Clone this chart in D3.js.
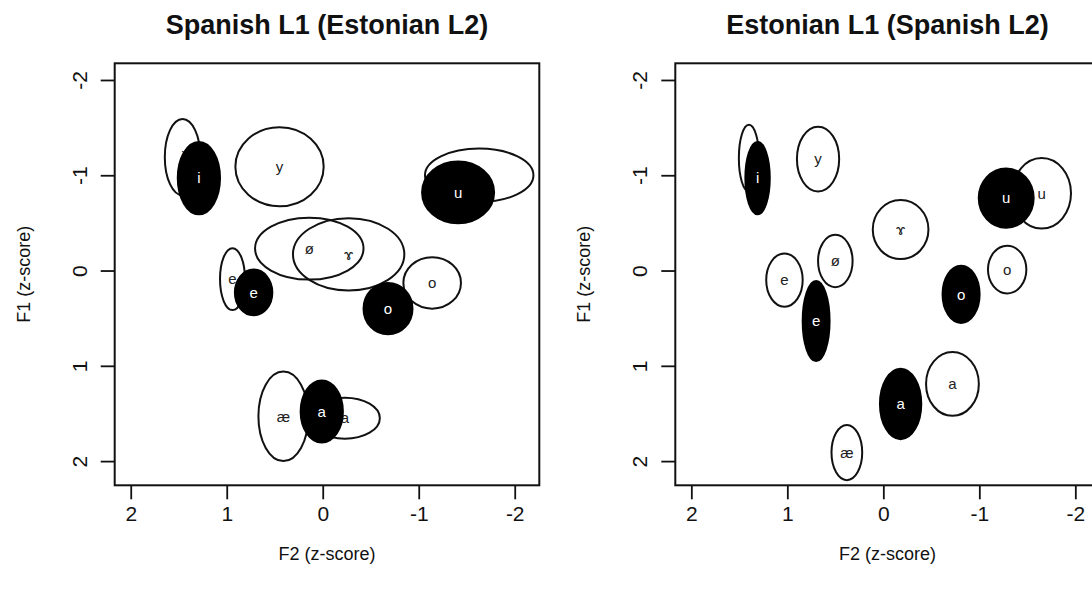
<!DOCTYPE html>
<html>
<head>
<meta charset="utf-8">
<script src="https://cdn.jsdelivr.net/npm/d3@7"></script>
<style>
	body { margin: 0; background: #fff; }
	svg { display: block; font-family: "Liberation Sans", Arial, Helvetica, sans-serif; }
</style>
</head>
<body>
<svg id="chart" width="1092" height="596"></svg>
<script>
// ellipse centre = mean F2/F1 (z-score), radii = spread on each axis
// black = Spanish vowels, open = Estonian vowels

var panelTitles = ["Spanish L1 (Estonian L2)", "Estonian L1 (Spanish L2)"];
var xTicks = [2, 1, 0, -1, -2];
var yTicks = [-2, -1, 0, 1, 2];

var estVowels = ["i", "y", "u", "ø", "ɤ", "e", "o", "æ", "a"];
var spaVowels = ["i", "e", "a", "o", "u"];

// left panel
var leftEstF2  = [1.46, 0.45, -1.63, 0.14, -0.27, 0.94, -1.14, 0.41, -0.23];
var leftEstF1  = [-1.19, -1.09, -1.00, -0.23, -0.17, 0.09, 0.13, 1.53, 1.55];
var leftEstRx  = [0.185, 0.46, 0.565, 0.565, 0.58, 0.13, 0.30, 0.26, 0.365];
var leftEstRy  = [0.40, 0.415, 0.28, 0.325, 0.38, 0.325, 0.27, 0.47, 0.215];

var leftSpaF2  = [1.29, 0.72, 0.01, -0.68, -1.41];
var leftSpaF1  = [-0.97, 0.23, 1.48, 0.40, -0.82];
var leftSpaRx  = [0.22, 0.195, 0.22, 0.255, 0.375];
var leftSpaRy  = [0.38, 0.24, 0.325, 0.27, 0.325];

// right panel
var rightEstF2 = [1.40, 0.68, -1.65, 0.50, -0.18, 1.03, -1.29, 0.38, -0.72];
var rightEstF1 = [-1.18, -1.17, -0.81, -0.10, -0.43, 0.10, -0.01, 1.91, 1.19];
var rightEstRx = [0.105, 0.22, 0.305, 0.18, 0.29, 0.19, 0.20, 0.16, 0.275];
var rightEstRy = [0.35, 0.34, 0.37, 0.275, 0.31, 0.28, 0.25, 0.29, 0.335];

var rightSpaF2 = [1.31, 0.70, -0.18, -0.81, -1.28];
var rightSpaF1 = [-0.97, 0.53, 1.40, 0.25, -0.76];
var rightSpaRx = [0.127, 0.14, 0.215, 0.193, 0.286];
var rightSpaRy = [0.38, 0.42, 0.37, 0.30, 0.31];

function toRows(labels, f2, f1, rx, ry) {
	return labels.map(function(v, i) {
		return {vowel: v, f2: f2[i], f1: f1[i], rx: rx[i], ry: ry[i]};
	});
}

// plain hyphen for negatives, like R
function tickFmt(d) { return String(d); }

function vowelPlot() {
	var left = 0,
		top = 63.3,
		width = 424.6,
		height = 422,
		title = "",
		estonian = [],
		spanish = [];

	function vp(selection) {
		var x = d3.scaleLinear()
				.domain([2.167, -2.256])
				.range([left, left + width]);

		var y = d3.scaleLinear()
				.domain([-2.175, 2.254])
				.range([top, top + height]);

		var g = selection.append("g").attr("class", "panel");

		var xAxis = g.append("g")
				.attr("transform", "translate(0," + (top + height) + ")")
				.call(d3.axisBottom(x).tickValues(xTicks).tickSize(14).tickSizeOuter(0).tickPadding(7).tickFormat(tickFmt));

		var yAxis = g.append("g")
				.attr("transform", "translate(" + left + ",0)")
				.call(d3.axisLeft(y).tickValues(yTicks).tickSize(14).tickSizeOuter(0).tickFormat(tickFmt));

		[xAxis, yAxis].forEach(function(ax) {
			ax.select(".domain").remove();
			ax.selectAll(".tick line")
				.attr("stroke", "#111")
				.attr("stroke-width", 1.8);
			ax.selectAll(".tick text")
				.attr("fill", "#111")
				.style("font-size", "21px");
		});

		xAxis.selectAll(".tick text").attr("dy", "0.71em");

		// rotated y labels, like R's las = 0
		yAxis.selectAll(".tick text")
			.attr("x", null)
			.attr("dy", null)
			.attr("text-anchor", "middle")
			.attr("transform", "translate(" + (-28) + ",0) rotate(-90)");

		// open Estonian ellipses first
		var est = g.append("g").attr("class", "est");

		est.selectAll("ellipse")
			.data(estonian)
			.join("ellipse")
				.attr("cx", function(d) { return x(d.f2); })
				.attr("cy", function(d) { return y(d.f1); })
				.attr("rx", function(d) { return Math.abs(x(d.rx) - x(0)); })
				.attr("ry", function(d) { return Math.abs(y(d.ry) - y(0)); })
				.attr("fill", "none")
				.attr("stroke", "#111")
				.attr("stroke-width", 2);

		est.selectAll("text")
			.data(estonian)
			.join("text")
				.attr("x", function(d) { return x(d.f2); })
				.attr("y", function(d) { return y(d.f1); })
				.attr("dy", "0.35em")
				.attr("text-anchor", "middle")
				.attr("fill", "#222")
				.style("font-size", "15px")
				.text(function(d) { return d.vowel; });

		// filled Spanish ellipses on top
		var spa = g.append("g").attr("class", "spa");

		spa.selectAll("ellipse")
			.data(spanish)
			.join("ellipse")
				.attr("cx", function(d) { return x(d.f2); })
				.attr("cy", function(d) { return y(d.f1); })
				.attr("rx", function(d) { return Math.abs(x(d.rx) - x(0)); })
				.attr("ry", function(d) { return Math.abs(y(d.ry) - y(0)); })
				.attr("fill", "#000")
				.attr("stroke", "#000")
				.attr("stroke-width", 2);

		spa.selectAll("text")
			.data(spanish)
			.join("text")
				.attr("x", function(d) { return x(d.f2); })
				.attr("y", function(d) { return y(d.f1); })
				.attr("dy", "0.35em")
				.attr("text-anchor", "middle")
				.attr("fill", "#fff")
				.style("font-size", "15px")
				.text(function(d) { return d.vowel; });

		// plot box
		g.append("rect")
			.attr("x", left)
			.attr("y", top)
			.attr("width", width)
			.attr("height", height)
			.attr("fill", "none")
			.attr("stroke", "#111")
			.attr("stroke-width", 2);

		g.append("text")
			.attr("x", left + width / 2)
			.attr("y", 34)
			.attr("text-anchor", "middle")
			.style("font-size", "27px")
			.style("font-weight", "bold")
			.attr("fill", "#111")
			.text(title);

		g.append("text")
			.attr("x", left + width / 2)
			.attr("y", 560)
			.attr("text-anchor", "middle")
			.style("font-size", "18px")
			.attr("fill", "#111")
			.text("F2 (z-score)");

		g.append("text")
			.attr("transform", "translate(" + (left - 85) + "," + (top + height / 2) + ") rotate(-90)")
			.attr("text-anchor", "middle")
			.style("font-size", "18px")
			.attr("fill", "#111")
			.text("F1 (z-score)");
	}

	vp.left = function(value) {
		if (!arguments.length) return left;
		left = value;
		return vp;
	};

	vp.title = function(value) {
		if (!arguments.length) return title;
		title = value;
		return vp;
	};

	vp.estonian = function(value) {
		if (!arguments.length) return estonian;
		estonian = value;
		return vp;
	};

	vp.spanish = function(value) {
		if (!arguments.length) return spanish;
		spanish = value;
		return vp;
	};

	return vp;
}

var svg = d3.select("#chart");

svg.call(vowelPlot()
	.left(114.7)
	.title(panelTitles[0])
	.estonian(toRows(estVowels, leftEstF2, leftEstF1, leftEstRx, leftEstRy))
	.spanish(toRows(spaVowels, leftSpaF2, leftSpaF1, leftSpaRx, leftSpaRy)));

svg.call(vowelPlot()
	.left(675.3)
	.title(panelTitles[1])
	.estonian(toRows(estVowels, rightEstF2, rightEstF1, rightEstRx, rightEstRy))
	.spanish(toRows(spaVowels, rightSpaF2, rightSpaF1, rightSpaRx, rightSpaRy)));
</script>
</body>
</html>
